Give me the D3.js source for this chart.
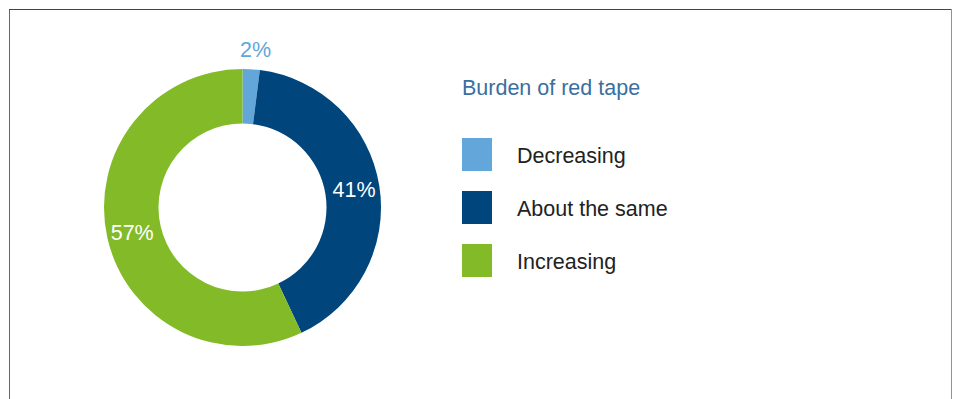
<!DOCTYPE html>
<html>
<head>
<meta charset="utf-8">
<script src="https://cdn.jsdelivr.net/npm/d3@7"></script>
<style>
    html, body { margin: 0; padding: 0; background: #fff; }
    svg { display: block; font-family: 'Liberation Sans', Arial, sans-serif; }
</style>
</head>
<body>
<svg id="chart" width="960" height="399"></svg>
<script>
// Burden of red tape: share of answers
const categories = ['Decreasing', 'About the same', 'Increasing'];
const shares = [2, 41, 57];
const colours = ['#63a6d9', '#00457c', '#83ba28'];
const legendTitle = 'Burden of red tape';

const svg = d3.select('#chart');

// frame round the chart (runs past the bottom edge)
svg.append('line')
    .attr('x1', 9.5).attr('x2', 9.5)
    .attr('y1', 9).attr('y2', 420)
    .attr('stroke', '#666');
svg.append('line')
    .attr('x1', 9).attr('x2', 952)
    .attr('y1', 9.5).attr('y2', 9.5)
    .attr('stroke', '#1f4e79');
svg.append('line')
    .attr('x1', 951.5).attr('x2', 951.5)
    .attr('y1', 9).attr('y2', 420)
    .attr('stroke', '#7f97ad');

const cx = 242.5;
const cy = 207.5;
const outer = 138.5;
const inner = 84;

const data = categories.map((name, i) => ({ name, value: shares[i], colour: colours[i] }));

const pie = d3.pie()
    .value(d => d.value)
    .sort(null);

const arc = d3.arc()
    .innerRadius(inner)
    .outerRadius(outer);

const arcs = pie(data);

const donut = svg.append('g')
    .attr('transform', `translate(${cx},${cy})`);

donut.selectAll('path')
    .data(arcs)
    .enter().append('path')
    .attr('d', arc)
    .attr('fill', d => d.data.colour);

// labels: the small slice gets its label outside, the others sit on the ring
const labelArc = d3.arc()
    .innerRadius(113)
    .outerRadius(113);
const outsideArc = d3.arc()
    .innerRadius(outer + 20)
    .outerRadius(outer + 20);

donut.selectAll('text')
    .data(arcs)
    .enter().append('text')
    .attr('transform', d => {
        const c = d.data.value < 5 ? outsideArc.centroid(d) : labelArc.centroid(d);
        if (d.data.value < 5) c[0] += 3;
        return `translate(${c})`;
    })
    .attr('text-anchor', 'middle')
    .attr('dy', '0.35em')
    .attr('font-size', 21.5)
    .attr('fill', d => (d.data.value < 5 ? d.data.colour : '#fff'))
    .text(d => `${d.data.value}%`);

// legend
const legend = svg.append('g')
    .attr('transform', 'translate(462,0)');

legend.append('text')
    .attr('x', 0)
    .attr('y', 95)
    .attr('font-size', 21.5)
    .attr('fill', '#3a6f9f')
    .text(legendTitle);

const rows = legend.selectAll('g.row')
    .data(data)
    .enter().append('g')
    .attr('class', 'row')
    .attr('transform', (d, i) => `translate(0,${138 + i * 53})`);

rows.append('rect')
    .attr('width', 30)
    .attr('height', 33)
    .attr('fill', d => d.colour);

rows.append('text')
    .attr('x', 55)
    .attr('y', 24.5)
    .attr('font-size', 21.5)
    .attr('fill', '#222')
    .text(d => d.name);
</script>
</body>
</html>
